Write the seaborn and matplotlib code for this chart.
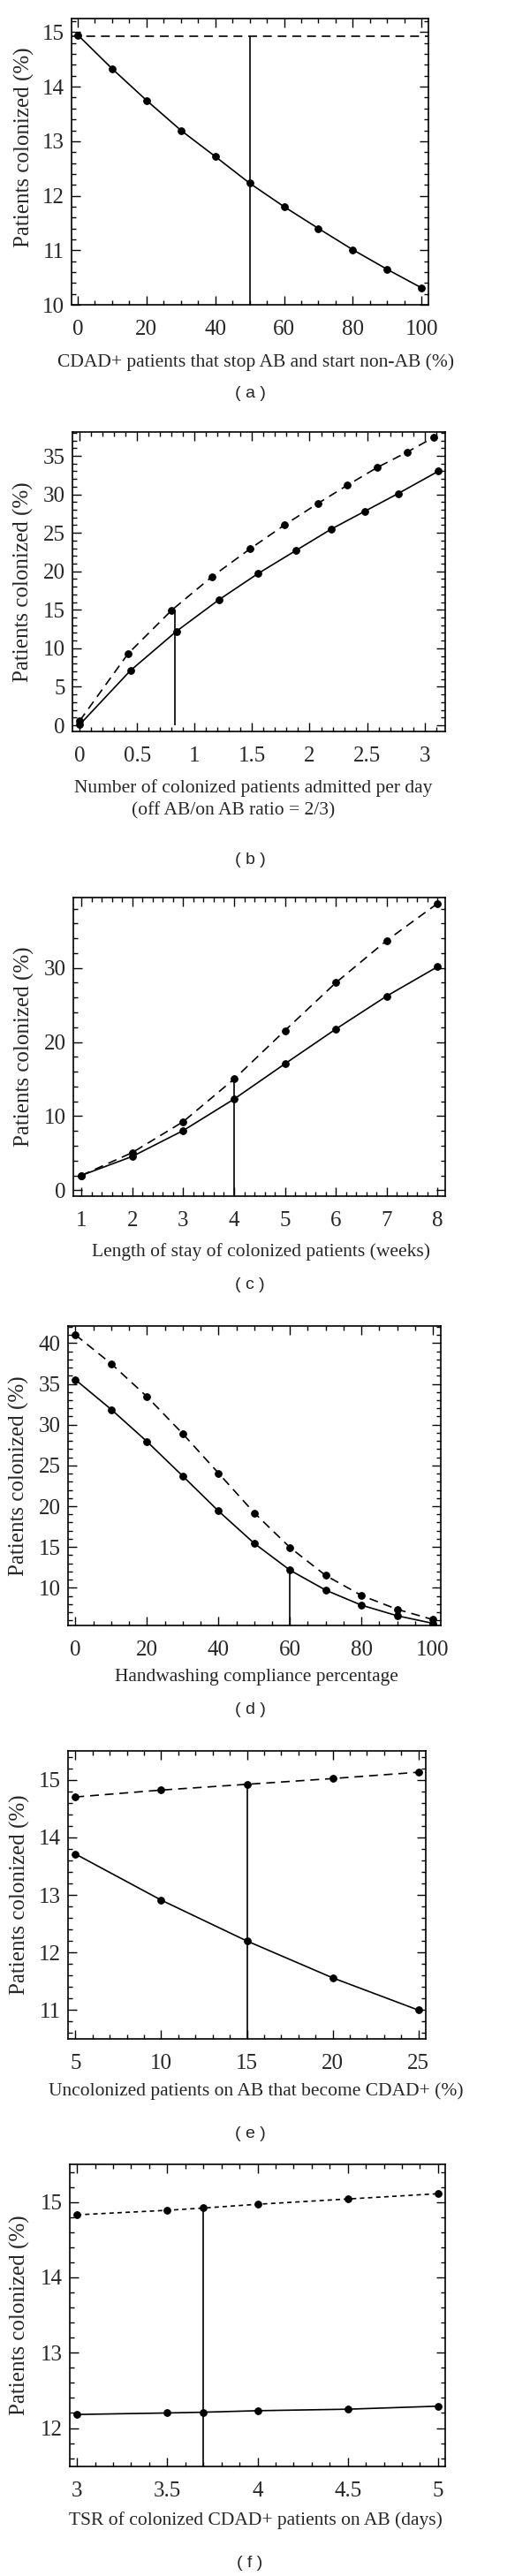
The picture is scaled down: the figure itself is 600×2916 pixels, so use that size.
import matplotlib
matplotlib.use("Agg")
import matplotlib.pyplot as plt
from matplotlib.ticker import MultipleLocator, FormatStrFormatter
import pandas as pd
import seaborn as sns

# ---- data ----
# (a) CDAD+ patients that stop AB and start non-AB
a_x = [0, 10, 20, 30, 40, 50, 60, 70, 80, 90, 100]
a_y = [14.95, 14.33, 13.75, 13.2, 12.72, 12.23, 11.8, 11.4, 11.01, 10.65, 10.31]
a_base = 14.93
a_mark = 50

# (b) colonized patients admitted per day
b_x_solid = [0, 0.44, 0.84, 1.21, 1.55, 1.88, 2.19, 2.48, 2.77, 3.12]
b_y_solid = [0.1, 7.1, 12.2, 16.3, 19.7, 22.7, 25.5, 27.8, 30.1, 33.0]
b_x_dash = [0, 0.42, 0.80, 1.15, 1.48, 1.78, 2.07, 2.33, 2.59, 2.85, 3.08]
b_y_dash = [0.6, 9.3, 14.95, 19.3, 22.9, 26.0, 28.8, 31.2, 33.5, 35.5, 37.4]
b_mark = 0.83

# (c) length of stay (weeks)
c_x = [1, 2, 3, 4, 5, 6, 7, 8]
c_y_solid = [2.0, 4.56, 8.05, 12.3, 17.06, 21.75, 26.2, 30.16]
c_y_dash = [2.0, 5.08, 9.25, 15.0, 21.55, 28.0, 33.7, 38.7]
c_mark = 4

# (d) handwashing compliance
d_x = [0, 10, 20, 30, 40, 50, 60, 70, 80, 90, 100]
d_y_solid = [35.5, 31.86, 27.93, 23.7, 19.41, 15.45, 12.16, 9.71, 7.87, 6.57, 5.64]
d_y_dash = [41.0, 37.47, 33.43, 28.89, 24.06, 19.19, 14.94, 11.51, 9.06, 7.36, 6.10]
d_mark = 60

# (e) uncolonized patients on AB that become CDAD+
e_x = [5, 10, 15, 20, 25]
e_y_solid = [13.71, 12.91, 12.2, 11.56, 11.0]
e_y_dash = [14.70, 14.82, 14.92, 15.02, 15.13]
e_mark = 15

# (f) TSR of colonized CDAD+ patients on AB
f_x = [3, 3.5, 3.7, 4, 4.5, 5]
f_y_solid = [12.18, 12.20, 12.21, 12.23, 12.25, 12.29]
f_y_dash = [14.83, 14.89, 14.92, 14.97, 15.04, 15.11]
f_mark = 3.7

ylab = "Patients colonized (%)"

sns.set_style("ticks")
plt.rcParams["font.family"] = ["Liberation Serif", "DejaVu Serif"]

W, H = 600, 2916
fig = plt.figure(figsize=(W / 100, H / 100), dpi=100)

DASH = (0, (6, 4))
SHORT = (0, (3, 2.5))


def px_axes(l, t, r, b):
    return fig.add_axes([l / W, 1 - b / H, (r - l) / W, (b - t) / H])


def style(ax, xlim, ylim, xmaj, xmin, ymaj, ymin):
    ax.set_xlim(*xlim)
    ax.set_ylim(*ylim)
    ax.xaxis.set_major_locator(MultipleLocator(xmaj))
    ax.xaxis.set_minor_locator(MultipleLocator(xmin))
    ax.yaxis.set_major_locator(MultipleLocator(ymaj))
    ax.yaxis.set_minor_locator(MultipleLocator(ymin))
    ax.xaxis.set_major_formatter(FormatStrFormatter("%g"))
    ax.yaxis.set_major_formatter(FormatStrFormatter("%g"))
    ax.tick_params(which="both", direction="in", top=True, right=True,
                   color="black", width=1.0, labelsize=18)
    ax.tick_params(axis="x", pad=12)
    ax.tick_params(axis="y", pad=6)
    ax.tick_params(which="major", length=7)
    ax.tick_params(which="minor", length=3.5)
    for s in ax.spines.values():
        s.set_visible(True)
        s.set_linewidth(1.2)
        s.set_color("black")
    ax.set_xlabel("")
    ax.set_ylabel(ylab, fontsize=18)
    ax.yaxis.set_label_coords(-0.105, 0.5)


def series(ax, x, y, ls="-"):
    df = pd.DataFrame({"x": x, "y": y})
    sns.lineplot(data=df, x="x", y="y", ax=ax, linestyle=ls, sort=False,
                 errorbar=None, color="black", linewidth=1.2, marker="o",
                 markersize=5.5, markeredgecolor="black",
                 markerfacecolor="black")


def fig_text(x, y, s, **kw):
    fig.text(x / W, 1 - y / H, s, ha="center", va="center", **kw)


def letter(y, s):
    fig_text(283, y, s, fontsize=14, family=["Liberation Sans", "DejaVu Sans"])


XL = 15.5

# (a)
ax = px_axes(81, 21, 485, 345)
series(ax, a_x, a_y)
ax.axhline(a_base, color="black", linewidth=1.2, linestyle=DASH)
style(ax, (-1.8, 102), (10, 15.25), 20, 5, 1, 0.2)
ax.vlines(a_mark, 10, a_base, color="black", linewidth=1.2)
ax.yaxis.set_label_coords(-0.105, 0.55)
fig_text(290, 410, "CDAD+ patients that stop AB and start non-AB (%)", fontsize=XL)
letter(445, "( a )")

# (b)
ax = px_axes(82, 489, 504, 828)
series(ax, b_x_dash, b_y_dash, DASH)
series(ax, b_x_solid, b_y_solid)
style(ax, (-0.064, 3.18), (-0.8, 38.1), 0.5, 0.1, 5, 1)
ax.vlines(b_mark, 0, b_y_dash[2], color="black", linewidth=1.2)
fig_text(287, 892, "Number of colonized patients admitted per day", fontsize=XL)
fig_text(264, 918, "(off AB/on AB ratio = 2/3)", fontsize=XL)
letter(973, "( b )")

# (c)
ax = px_axes(83, 1016, 504, 1354)
series(ax, c_x, c_y_dash, DASH)
series(ax, c_x, c_y_solid)
style(ax, (0.84, 8.15), (-0.8, 39.5), 1, 0.2, 10, 2)
ax.vlines(c_mark, -0.8, c_y_dash[3], color="black", linewidth=1.2)
fig_text(296, 1417, "Length of stay of colonized patients (weeks)", fontsize=XL)
letter(1455, "( c )")

# (d)
ax = px_axes(77, 1501, 499, 1840)
series(ax, d_x, d_y_dash, DASH)
series(ax, d_x, d_y_solid)
style(ax, (-2.1, 102.2), (5.38, 42.1), 20, 5, 5, 1)
ax.vlines(d_mark, 5.38, d_y_solid[6], color="black", linewidth=1.2)
fig_text(290, 1898, "Handwashing compliance percentage", fontsize=XL)
letter(1935, "( d )")

# (e)
ax = px_axes(77, 1982, 482, 2308)
series(ax, e_x, e_y_dash, DASH)
series(ax, e_x, e_y_solid)
style(ax, (4.57, 25.43), (10.5, 15.5), 5, 1, 1, 0.2)
ax.vlines(e_mark, 10.5, e_y_dash[2], color="black", linewidth=1.2)
fig_text(290, 2367, "Uncolonized patients on AB that become CDAD+ (%)", fontsize=XL)
letter(2415, "( e )")

# (f)
ax = px_axes(79, 2450, 504, 2792)
series(ax, f_x, f_y_dash, SHORT)
series(ax, f_x, f_y_solid)
style(ax, (2.96, 5.04), (11.49, 15.5), 0.5, 0.1, 1, 0.2)
ax.vlines(f_mark, 11.49, f_y_dash[2], color="black", linewidth=1.2)
fig_text(289, 2853, "TSR of colonized CDAD+ patients on AB (days)", fontsize=XL)
letter(2902, "( f )")

fig.savefig("out.png", dpi=100, facecolor="white")
